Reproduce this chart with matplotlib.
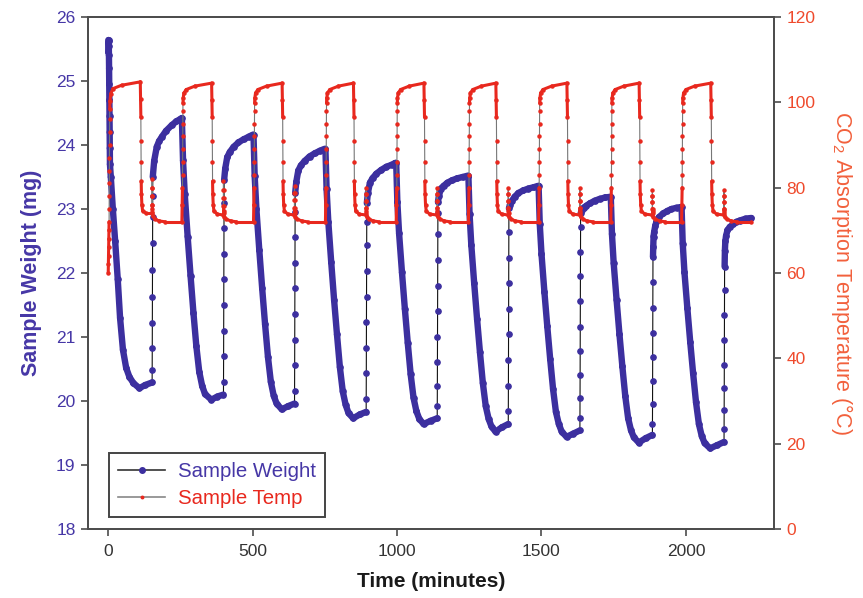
import matplotlib
matplotlib.use("Agg")
import matplotlib.pyplot as plt
import numpy as np
from matplotlib.collections import LineCollection
from matplotlib.lines import Line2D

plt.rcParams['font.family'] = ['Liberation Sans', 'DejaVu Sans']
plt.rcParams['mathtext.fontset'] = 'custom'
plt.rcParams['mathtext.rm'] = 'Liberation Sans'

# sample weight, one block per cycle: fall while hot, creep, CO2 step, recovery
weight_min = [
    0, 0.5, 1, 1.5, 2, 2.5, 3, 3.5, 4, 4.5, 5, 5.5, 6, 9, 16, 24, 33, 41, 51, 62, 73, 87, 108, 128, 152,
    152.25, 152.5, 152.75, 153, 153.25, 153.5, 153.75, 154, 154.25,
    159, 168, 176, 186, 200, 220, 236, 251,
    255, 259, 265, 275, 285, 295, 305, 315, 325, 335, 357, 378, 399,
    399.25, 399.5, 399.75, 400, 400.25, 400.5, 400.75, 401, 401.25,
    405, 412, 421, 434, 451, 469, 487, 500,
    503, 507, 513, 523, 533, 543, 553, 563, 573, 583, 601, 623, 645,
    645.25, 645.5, 645.75, 646, 646.25, 646.5, 646.75, 647, 647.25,
    651, 658, 667, 680, 697, 715, 733, 749,
    752, 756, 762, 772, 782, 792, 802, 812, 822, 832, 848, 871, 893,
    893.25, 893.5, 893.75, 894, 894.25, 894.5, 894.75, 895, 895.25,
    899, 906, 915, 928, 945, 963, 981, 994,
    997, 1001, 1007, 1017, 1027, 1037, 1047, 1057, 1067, 1077, 1092, 1116, 1139,
    1139.25, 1139.5, 1139.75, 1140, 1140.25, 1140.5, 1140.75, 1141, 1141.25, 1141.5,
    1145, 1152, 1161, 1174, 1191, 1209, 1227, 1244,
    1247, 1251, 1257, 1267, 1277, 1287, 1297, 1307, 1317, 1327, 1341, 1363, 1385,
    1385.25, 1385.5, 1385.75, 1386, 1386.25, 1386.5, 1386.75, 1387, 1387.25,
    1391, 1398, 1407, 1420, 1437, 1455, 1473, 1487,
    1490, 1494, 1500, 1510, 1520, 1530, 1540, 1550, 1560, 1570, 1587, 1610, 1633,
    1633.25, 1633.5, 1633.75, 1634, 1634.25, 1634.5, 1634.75, 1635, 1635.25, 1635.5,
    1639, 1646, 1655, 1668, 1685, 1703, 1721, 1737,
    1740, 1744, 1750, 1760, 1770, 1780, 1790, 1800, 1810, 1820, 1837, 1861, 1884,
    1884.25, 1884.5, 1884.75, 1885, 1885.25, 1885.5, 1885.75, 1886, 1887, 1888,
    1890, 1894, 1898, 1906, 1921, 1936, 1950, 1968, 1982,
    1985, 1989, 1995, 2005, 2015, 2025, 2035, 2045, 2055, 2065, 2084, 2108, 2132,
    2132.25, 2132.5, 2132.75, 2133, 2133.25, 2133.5, 2133.75, 2134, 2135, 2136.5,
    2139, 2144, 2152, 2163, 2175, 2187, 2207, 2227,
]
weight_mg = [
    25.45, 25.6, 25.64, 25.62, 25.55, 25.4, 25.2, 24.95, 24.7, 24.45, 24.2, 23.95, 23.7, 23.5, 23.0,
    22.5, 21.9, 21.3, 20.8, 20.52, 20.38, 20.28, 20.2, 20.25, 20.29,
    20.48, 20.83, 21.22, 21.63, 22.05, 22.47, 22.88, 23.2, 23.5,
    23.75, 23.97, 24.06, 24.13, 24.22, 24.31, 24.37, 24.41,
    24.42, 23.76, 23.23, 22.57, 21.96, 21.38, 20.86, 20.46, 20.24, 20.11, 20.02, 20.07, 20.1,
    20.3, 20.7, 21.1, 21.5, 21.9, 22.3, 22.7, 23.1, 23.45,
    23.63, 23.81, 23.89, 23.97, 24.04, 24.09, 24.13, 24.16,
    24.16, 23.52, 23.0, 22.36, 21.76, 21.2, 20.69, 20.3, 20.08, 19.96, 19.87, 19.92, 19.96,
    20.16, 20.56, 20.96, 21.36, 21.76, 22.16, 22.56, 22.96, 23.25,
    23.42, 23.6, 23.68, 23.75, 23.82, 23.87, 23.91, 23.94,
    23.94, 23.31, 22.8, 22.17, 21.58, 21.04, 20.53, 20.15, 19.94, 19.81, 19.73, 19.79, 19.83,
    20.03, 20.43, 20.83, 21.23, 21.63, 22.03, 22.43, 22.8, 23.09,
    23.25, 23.41, 23.48, 23.55, 23.61, 23.66, 23.69, 23.72,
    23.72, 23.11, 22.62, 22.01, 21.44, 20.91, 20.42, 20.05, 19.84, 19.72, 19.64, 19.69, 19.73,
    19.92, 20.24, 20.61, 21.0, 21.4, 21.8, 22.21, 22.61, 22.94, 23.11,
    23.21, 23.32, 23.36, 23.41, 23.45, 23.48, 23.5, 23.52,
    23.52, 22.92, 22.44, 21.84, 21.28, 20.76, 20.28, 19.92, 19.72, 19.6, 19.52, 19.59, 19.64,
    19.84, 20.24, 20.64, 21.04, 21.44, 21.84, 22.24, 22.64, 23.01,
    23.07, 23.13, 23.19, 23.25, 23.29, 23.32, 23.34, 23.36,
    23.36, 22.77, 22.3, 21.71, 21.17, 20.66, 20.19, 19.83, 19.64, 19.52, 19.44, 19.49, 19.54,
    19.73, 20.04, 20.4, 20.78, 21.16, 21.56, 21.95, 22.33, 22.72, 22.93,
    22.98, 23.02, 23.05, 23.09, 23.13, 23.16, 23.18, 23.19,
    23.19, 22.61, 22.15, 21.58, 21.04, 20.54, 20.08, 19.73, 19.54, 19.43, 19.35, 19.42, 19.47,
    19.64, 19.95, 20.31, 20.68, 21.07, 21.46, 21.86, 22.25, 22.41, 22.57,
    22.64, 22.74, 22.8, 22.87, 22.93, 22.97, 23.0, 23.02, 23.03,
    23.03, 22.46, 22.01, 21.45, 20.92, 20.43, 19.98, 19.64, 19.45, 19.34, 19.26, 19.31, 19.36,
    19.56, 19.86, 20.21, 20.57, 20.95, 21.34, 21.73, 22.1, 22.35, 22.5,
    22.58, 22.67, 22.72, 22.76, 22.8, 22.82, 22.85, 22.86,
]

# sample temperature, per cycle: heat-up, cool-down, spike when CO2 is switched on
temp_min = [
    0, 0.5, 1, 1.5, 2, 2.5, 3, 3.25, 3.5, 3.75, 4, 4.25, 4.5, 4.75, 5, 5.25, 6, 8.5, 16, 46,
    111, 112, 113, 113.4, 113.8, 114.2, 115, 116.5, 119, 131,
    151.5, 151.625, 151.75, 151.875, 152, 152.125, 152.25, 152.375, 152.6, 152.9, 155, 162, 177, 197,
    255, 256, 257, 257.25, 257.5, 257.75, 258, 258.25, 258.5, 258.75, 259.5, 262, 270, 300,
    358, 359, 360, 360.4, 360.8, 361.2, 362, 363.5, 366, 378,
    398.5, 398.625, 398.75, 398.875, 399, 399.125, 399.25, 399.375, 399.6, 399.9, 402, 409, 424, 444,
    503, 504, 505, 505.25, 505.5, 505.75, 506, 506.25, 506.5, 506.75, 507.5, 510, 518, 548,
    602, 603, 604, 604.4, 604.8, 605.2, 606, 607.5, 610, 622,
    644.5, 644.625, 644.75, 644.875, 645, 645.125, 645.25, 645.375, 645.6, 645.9, 648, 655, 670, 690,
    752, 753, 754, 754.25, 754.5, 754.75, 755, 755.25, 755.5, 755.75, 756.5, 759, 767, 797,
    849, 850, 851, 851.4, 851.8, 852.2, 853, 854.5, 857, 869,
    892.5, 892.625, 892.75, 892.875, 893, 893.125, 893.25, 893.375, 893.6, 893.9, 896, 903, 918, 938,
    997, 998, 999, 999.25, 999.5, 999.75, 1000, 1000.25, 1000.5, 1000.75, 1001.5, 1004, 1012, 1042,
    1093, 1094, 1095, 1095.4, 1095.8, 1096.2, 1097, 1098.5, 1101, 1113,
    1138.5, 1138.625, 1138.75, 1138.875, 1139, 1139.125, 1139.25, 1139.375, 1139.6, 1139.9, 1142, 1149, 1164, 1184,
    1247, 1248, 1249, 1249.25, 1249.5, 1249.75, 1250, 1250.25, 1250.5, 1250.75, 1251.5, 1254, 1262, 1292,
    1342, 1343, 1344, 1344.4, 1344.8, 1345.2, 1346, 1347.5, 1350, 1362,
    1384.5, 1384.625, 1384.75, 1384.875, 1385, 1385.125, 1385.25, 1385.375, 1385.6, 1385.9, 1388, 1395, 1410, 1430,
    1490, 1491, 1492, 1492.25, 1492.5, 1492.75, 1493, 1493.25, 1493.5, 1493.75, 1494.5, 1497, 1505, 1535,
    1588, 1589, 1590, 1590.4, 1590.8, 1591.2, 1592, 1593.5, 1596, 1608,
    1632.5, 1632.625, 1632.75, 1632.875, 1633, 1633.125, 1633.25, 1633.375, 1633.6, 1633.9, 1636, 1643, 1658, 1678,
    1740, 1741, 1742, 1742.25, 1742.5, 1742.75, 1743, 1743.25, 1743.5, 1743.75, 1744.5, 1747, 1755, 1785,
    1838, 1839, 1840, 1840.4, 1840.8, 1841.2, 1842, 1843.5, 1846, 1858,
    1883.5, 1883.625, 1883.75, 1883.875, 1884, 1884.125, 1884.25, 1884.375, 1884.6, 1884.9, 1887, 1894, 1909, 1929,
    1985, 1986, 1987, 1987.25, 1987.5, 1987.75, 1988, 1988.25, 1988.5, 1988.75, 1989.5, 1992, 2000, 2030,
    2086, 2087, 2088, 2088.4, 2088.8, 2089.2, 2090, 2091.5, 2094, 2106,
    2131.5, 2131.625, 2131.75, 2131.875, 2132, 2132.125, 2132.25, 2132.375, 2132.6, 2132.9, 2135, 2142, 2157, 2177,
    2227,
]
temp_c = [
    60, 62, 64, 66, 68, 70, 72, 75, 78, 81, 84, 87, 90, 93, 96, 98.5, 100.2, 102, 103.2, 104,
    104.8, 100.7, 96.5, 91, 86, 81.5, 78.5, 76, 74.6, 74.0,
    74.0, 76.0, 78.0, 80.0, 82.0, 80.0, 78.0, 76.0, 75.0, 74.3, 73.3, 72.6, 72.2, 72.0,
    72, 76, 80, 83, 86, 89, 92, 95, 98, 99.8, 101, 102.2, 103, 103.8,
    104.5, 100.5, 96.5, 91, 86, 81.5, 78.5, 76, 74.5, 73.8,
    73.6, 75.6, 77.5, 79.5, 81.5, 79.5, 77.5, 75.6, 74.6, 74.0, 73.2, 72.6, 72.2, 72.0,
    72, 76, 80, 83, 86, 89, 92, 95, 98, 99.8, 101, 102.2, 103, 103.8,
    104.5, 100.5, 96.5, 91, 86, 81.5, 78.5, 76, 74.5, 73.8,
    73.6, 75.3, 77.1, 78.8, 80.5, 78.8, 77.1, 75.3, 74.6, 74.0, 73.2, 72.6, 72.2, 72.0,
    72, 76, 80, 83, 86, 89, 92, 95, 98, 99.8, 101, 102.2, 103, 103.8,
    104.5, 100.5, 96.5, 91, 86, 81.5, 78.5, 76, 74.5, 73.8,
    73.6, 75.2, 76.8, 78.4, 80, 78.4, 76.8, 75.2, 74.6, 74.0, 73.2, 72.6, 72.2, 72.0,
    72, 76, 80, 83, 86, 89, 92, 95, 98, 99.8, 101, 102.2, 103, 103.8,
    104.5, 100.5, 96.5, 91, 86, 81.5, 78.5, 76, 74.5, 73.8,
    73.6, 75.2, 76.8, 78.4, 80, 78.4, 76.8, 75.2, 74.6, 74.0, 73.2, 72.6, 72.2, 72.0,
    72, 76, 80, 83, 86, 89, 92, 95, 98, 99.8, 101, 102.2, 103, 103.8,
    104.5, 100.5, 96.5, 91, 86, 81.5, 78.5, 76, 74.5, 73.8,
    73.6, 75.2, 76.8, 78.4, 80, 78.4, 76.8, 75.2, 74.6, 74.0, 73.2, 72.6, 72.2, 72.0,
    72, 76, 80, 83, 86, 89, 92, 95, 98, 99.8, 101, 102.2, 103, 103.8,
    104.5, 100.5, 96.5, 91, 86, 81.5, 78.5, 76, 74.5, 73.8,
    73.6, 75.2, 76.8, 78.4, 80, 78.4, 76.8, 75.2, 74.6, 74.0, 73.2, 72.6, 72.2, 72.0,
    72, 76, 80, 83, 86, 89, 92, 95, 98, 99.8, 101, 102.2, 103, 103.8,
    104.5, 100.5, 96.5, 91, 86, 81.5, 78.5, 76, 74.5, 73.8,
    73.6, 75.1, 76.6, 78.0, 79.5, 78.0, 76.6, 75.1, 74.6, 74.0, 73.2, 72.6, 72.2, 72.0,
    72, 76, 80, 83, 86, 89, 92, 95, 98, 99.8, 101, 102.2, 103, 103.8,
    104.5, 100.5, 96.5, 91, 86, 81.5, 78.5, 76, 74.5, 73.8,
    73.6, 75.1, 76.6, 78.0, 79.5, 78.0, 76.6, 75.1, 74.6, 74.0, 73.2, 72.6, 72.2, 72.0,
    72.0,
]

time_ticks = [0, 500, 1000, 1500, 2000]
weight_ticks = [18, 19, 20, 21, 22, 23, 24, 25, 26]
temp_ticks = [0, 20, 40, 60, 80, 100, 120]

blue = '#3c2f9f'
blue_txt = '#4637a6'
red = '#e8281e'
red_txt = '#ef4a2c'
spine_col = '#4d4d4d'


def slow_segments(x, y, max_rate):
    # pieces where the sampled points sit so close together that they merge into a band
    x = np.asarray(x, float)
    y = np.asarray(y, float)
    rate = np.abs(np.diff(y)) / np.diff(x)
    segs = np.stack([np.column_stack([x[:-1], y[:-1]]),
                     np.column_stack([x[1:], y[1:]])], axis=1)
    return segs[rate < max_rate]


fig = plt.figure(figsize=(8.63, 5.98), dpi=100)
ax1 = fig.add_axes([88 / 863, 69 / 598, 686 / 863, 512 / 598])
ax2 = ax1.twinx()

# weight
ax1.plot(weight_min, weight_mg, color='#111111', lw=0.8, zorder=1)
ax1.add_collection(LineCollection(slow_segments(weight_min, weight_mg, 0.6), colors=blue,
                                  linewidths=4.6, capstyle='round', joinstyle='round', zorder=2))
ax1.plot(weight_min, weight_mg, ls='none', marker='o', ms=3.8, mfc=blue, mec=blue, zorder=3)

# temperature
ax2.plot(temp_min, temp_c, color='#777777', lw=0.8, zorder=1)
ax2.add_collection(LineCollection(slow_segments(temp_min, temp_c, 5.0), colors=red,
                                  linewidths=2.2, capstyle='round', joinstyle='round', zorder=2))
ax2.plot(temp_min, temp_c, ls='none', marker='o', ms=2.2, mfc=red, mec=red, zorder=3)

ax1.set_xlim(-70, 2305)
ax1.set_ylim(18, 26)
ax2.set_ylim(0, 120)
ax1.set_xticks(time_ticks)
ax1.set_yticks(weight_ticks)
ax2.set_yticks(temp_ticks)

for ax in (ax1, ax2):
    for sp in ax.spines.values():
        sp.set_color(spine_col)
        sp.set_linewidth(1.3)
ax1.tick_params(axis='x', length=5, width=1.2, color=spine_col, labelcolor='#333333',
                labelsize=12.5, pad=6)
ax1.tick_params(axis='y', length=5, width=1.2, color=spine_col, labelcolor=blue_txt,
                labelsize=12.5, pad=4)
ax2.tick_params(axis='y', length=5, width=1.2, color=spine_col, labelcolor=red_txt,
                labelsize=12.5, pad=4)

ax1.set_xlabel('Time (minutes)', fontsize=15, fontweight='bold', color='#1a1a1a', labelpad=9)
ax1.set_ylabel('Sample Weight (mg)', fontsize=15.5, fontweight='bold', color=blue_txt, labelpad=10)
ax2.set_ylabel(r'CO$_\mathregular{2}$ Absorption Temperature (°C)', fontsize=15.5,
               color='#f2603c', rotation=270, va='bottom', labelpad=10)

handles = [
    Line2D([], [], color='#333333', lw=1.2, marker='o', ms=4, mfc=blue, mec=blue),
    Line2D([], [], color='#888888', lw=1.2, marker='o', ms=1.8, mfc=red, mec=red),
]
leg = ax2.legend(handles, ['Sample Weight', 'Sample Temp'], loc='lower left',
                 bbox_to_anchor=(0.031, 0.023), borderaxespad=0, fontsize=14.7,
                 fancybox=False, framealpha=1, edgecolor='#444444', handlelength=2.3,
                 handletextpad=0.6, labelspacing=0.4, borderpad=0.45, numpoints=1)
leg.get_frame().set_linewidth(1.4)
for txt, c in zip(leg.get_texts(), [blue_txt, red]):
    txt.set_color(c)

fig.savefig('out.png', dpi=100)
